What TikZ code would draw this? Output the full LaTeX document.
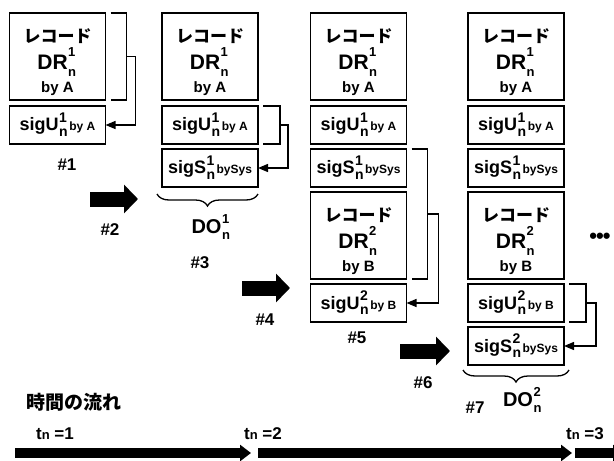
\documentclass[tikz,border=0pt]{standalone}
\usepackage{fontspec}
\setmainfont{Liberation Sans}
\newfontfamily\jpfont{Noto Sans CJK JP}
\usetikzlibrary{arrows.meta,positioning,calc,decorations.pathreplacing}

\newcommand{\setfs}[1]{\fontsize{#1}{#1}\selectfont}
% stacked superscript / subscript after a symbol
\newcommand{\stk}[4][0.45em]{\kern0.5pt\rlap{\raisebox{#1}{\setfs{#2}#3}}\raisebox{-0.32em}{\setfs{#2}#4}\kern1.5pt}
\newcommand{\recbody}[2]{\rule{0pt}{22pt}{\jpfont\setfs{17}レコード}\\[2pt]{\setfs{21}DR\stk[0.62em]{13}{#1}{n}}\\[-2pt]{\setfs{15}by #2}}
\newcommand{\sigbody}[3]{sig#1\stk{14}{#2}{n}{\setfs{12}#3}}

\begin{document}
\begin{tikzpicture}[
  x=1pt, y=-1pt,
  recbox/.style={draw, line width=1.6pt, minimum width=96pt, minimum height=87pt, inner sep=0pt, outer sep=0pt, align=center, font=\bfseries\fontsize{15}{25}\selectfont, text depth=0pt},
  sigbox/.style={draw, line width=1.6pt, minimum width=96pt, minimum height=38pt, inner sep=0pt, outer sep=0pt, font=\bfseries\setfs{18}},
  brk/.style={line width=1.3pt},
  arr/.style={line width=1.3pt, -{Triangle[length=10pt,width=8pt]}},
  fat/.style={line width=15pt, -{Triangle[length=14pt,width=28pt]}},
  flow/.style={line width=10pt, -{Triangle[length=11pt,width=16pt]}},
  tag/.style={font=\bfseries\setfs{17}},
  brc/.style={decorate, decoration={brace, amplitude=12pt}, line width=1.3pt},
  dolab/.style={font=\bfseries\setfs{20}}
]
  \fill[white] (0,0) rectangle (614,461);
  \useasboundingbox (0,0) rectangle (614,461);
  \clip (0,0) rectangle (614,461);

  % column #1
  \node[recbox] (c1rec1) at (57.5,56.5) {\recbody{1}{A}};
  \node[sigbox, below=6pt of c1rec1] (c1sigu1) {\sigbody{U}{1}{by A}};

  % column #3
  \node[recbox] (c2rec1) at (210,56.5) {\recbody{1}{A}};
  \node[sigbox, below=6pt of c2rec1] (c2sigu1) {\sigbody{U}{1}{by A}};
  \node[sigbox, below=5pt of c2sigu1] (c2sigs1) {\sigbody{S}{1}{bySys}};

  % column #5
  \node[recbox] (c3rec1) at (358.5,56.5) {\recbody{1}{A}};
  \node[sigbox, below=6pt of c3rec1] (c3sigu1) {\sigbody{U}{1}{by A}};
  \node[sigbox, below=5pt of c3sigu1] (c3sigs1) {\sigbody{S}{1}{bySys}};
  \node[recbox, below=5pt of c3sigs1] (c3rec2) {\recbody{2}{B}};
  \node[sigbox, below=5pt of c3rec2] (c3sigu2) {\sigbody{U}{2}{by B}};

  % column #7
  \node[recbox] (c4rec1) at (516,56.5) {\recbody{1}{A}};
  \node[sigbox, below=6pt of c4rec1] (c4sigu1) {\sigbody{U}{1}{by A}};
  \node[sigbox, below=5pt of c4sigu1] (c4sigs1) {\sigbody{S}{1}{bySys}};
  \node[recbox, below=5pt of c4sigs1] (c4rec2) {\recbody{2}{B}};
  \node[sigbox, below=5pt of c4rec2] (c4sigu2) {\sigbody{U}{2}{by B}};
  \node[sigbox, below=5pt of c4sigu2] (c4sigs2) {\sigbody{S}{2}{bySys}};

  % signing brackets
  \draw[brk] ([xshift=5pt]c1rec1.north east) -- ++(16pt,0) |- ([xshift=5pt]c1rec1.south east);
  \coordinate (c1k) at ([xshift=21pt]c1rec1.east);
  \draw[arr] (c1k) -- ++(9pt,0) |- (c1sigu1.east);

  \draw[brk] ([xshift=5pt]c2sigu1.north east) -- ++(17pt,0) |- ([xshift=5pt]c2sigu1.south east);
  \coordinate (c2k) at ([xshift=22pt]c2sigu1.east);
  \draw[arr] (c2k) -- ++(8pt,0) |- (c2sigs1.east);

  \draw[brk] ([xshift=5pt]c3sigs1.north east) -- ++(16pt,0) |- ([xshift=5pt]c3rec2.south east);
  \coordinate (c3k) at ($([xshift=21pt]c3sigs1.north east)!0.5!([xshift=21pt]c3rec2.south east)$);
  \draw[arr] (c3k) -- ++(11pt,0) |- (c3sigu2.east);

  \draw[brk] ([xshift=5pt]c4sigu2.north east) -- ++(17pt,0) |- ([xshift=5pt]c4sigu2.south east);
  \coordinate (c4k) at ([xshift=22pt]c4sigu2.east);
  \draw[arr] (c4k) -- ++(10pt,0) |- (c4sigs2.east);

  % braces
  \draw[brc] ([xshift=0pt,yshift=-7pt]c2sigs1.south east) -- ([xshift=-5pt,yshift=-7pt]c2sigs1.south west)
    node[dolab, midway, xshift=4pt, yshift=-33pt] (c2do) {DO\stk[0.5em]{13}{1}{n}};
  \draw[brc] ([xshift=5pt,yshift=-5pt]c4sigs2.south east) -- ([xshift=-5pt,yshift=-5pt]c4sigs2.south west)
    node[dolab, midway, xshift=7pt, yshift=-30pt] (c4do) {DO\stk[0.5em]{13}{2}{n}};

  % step arrows
  \coordinate (f2s) at (90,199);  \coordinate (f2e) at (138,199);
  \coordinate (f4s) at (242,288); \coordinate (f4e) at (290,288);
  \coordinate (f6s) at (400,351); \coordinate (f6e) at (450,351);
  \draw[fat] (f2s) -- (f2e);
  \draw[fat] (f4s) -- (f4e);
  \draw[fat] (f6s) -- (f6e);

  % step tags
  \node[tag] (t1) at (67,165) {\#1};
  \node[tag] (t2) at (110,230) {\#2};
  \node[tag] (t3) at (200,263) {\#3};
  \node[tag] (t4) at (265,320) {\#4};
  \node[tag] (t5) at (357,338) {\#5};
  \node[tag] (t6) at (423,383) {\#6};
  \node[tag] (t7) at (475,408) {\#7};
  \node[font=\bfseries\setfs{22}] (more) at (600,238) {\textbullet\kern-1pt\textbullet\kern-1pt\textbullet};

  % time line
  \node[font=\jpfont\bfseries\setfs{19}] (flowlab) at (74,402) {時間の流れ};
  \node[tag] (tn1) at (55,434) {t{\setfs{13}n} =1};
  \node[tag] (tn2) at (263,434) {t{\setfs{13}n} =2};
  \node[tag] (tn3) at (585,434) {t{\setfs{13}n} =3};
  \coordinate (l1s) at (15,453);  \coordinate (l1e) at (251,453);
  \coordinate (l2s) at (258,453); \coordinate (l2e) at (572,453);
  \coordinate (l3s) at (575,453); \coordinate (l3e) at (624,453);
  \draw[flow] (l1s) -- (l1e);
  \draw[flow] (l2s) -- (l2e);
  \draw[flow] (l3s) -- (l3e);
\end{tikzpicture}
\end{document}
